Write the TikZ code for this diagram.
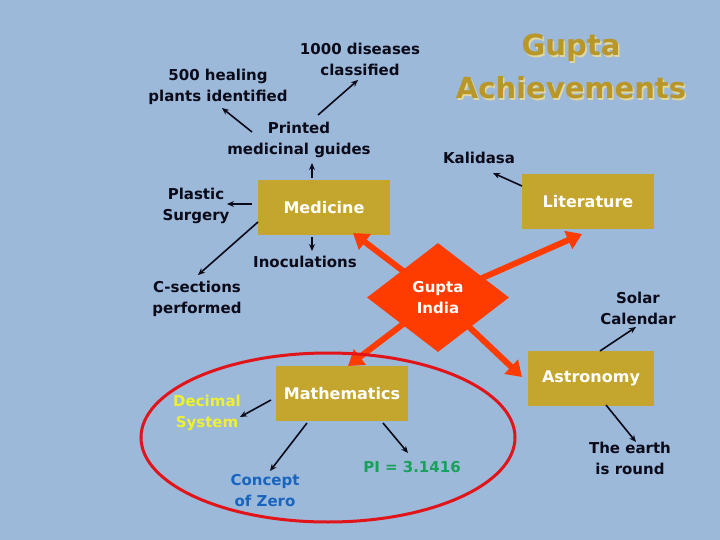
\documentclass[tikz,border=0pt]{standalone}
\usepackage{fontspec}
\setmainfont{DejaVu Sans}
\usetikzlibrary{shapes.geometric,arrows.meta}
\definecolor{bg}{RGB}{156,185,218}
\definecolor{gold}{RGB}{196,166,46}
\definecolor{redor}{RGB}{255,60,0}
\definecolor{ellred}{RGB}{225,20,25}
\definecolor{ttl}{RGB}{185,150,40}
\definecolor{ttlsh}{RGB}{225,215,160}
\definecolor{dec}{RGB}{240,240,50}
\definecolor{zero}{RGB}{25,100,190}
\definecolor{pigreen}{RGB}{25,160,90}
\definecolor{ink}{RGB}{10,10,25}
\begin{document}
\begin{tikzpicture}[x=1pt,y=-1pt,
 lbl/.style={text=ink, font=\fontsize{15}{21}\selectfont\bfseries, align=center, inner sep=0pt},
 box/.style={fill=gold, minimum width=132pt, minimum height=55pt, inner sep=0pt, text=white, font=\fontsize{16}{18}\selectfont\bfseries},
 blk/.style={draw=ink, line width=1.6pt, -{Stealth[length=7pt,width=6pt]}},
 big/.style={draw=redor, line width=6pt, -{Triangle[length=15pt,width=19pt]}},
]
\fill[bg] (0,0) rectangle (720,540);
\useasboundingbox (0,0) rectangle (720,540);

% title
\node[text=ttlsh, font=\fontsize{29}{43}\selectfont\bfseries, align=center, inner sep=0pt] (titlesh) at (572.5,68) {Gupta\\Achievements};
\node[text=ttl, font=\fontsize{29}{43}\selectfont\bfseries, align=center, inner sep=0pt] (title) at (571,66.5) {Gupta\\Achievements};

% text labels
\node[lbl] (dis) at (360,59) {1000 diseases\\classified};
\node[lbl] (heal) at (218,86.5) {500 healing\\plants identified};
\node[lbl] (pmg) at (299,139.5) {Printed\\medicinal guides};
\node[lbl] (kal) at (479,158) {Kalidasa};
\node[lbl] (ps) at (196,205.5) {Plastic\\Surgery};
\node[lbl] (ino) at (305,262) {Inoculations};
\node[lbl] (cs) at (197,299) {C-sections\\performed};
\node[lbl] (sol) at (638,308.5) {Solar\\Calendar};
\node[lbl] (earth) at (630,458.5) {The earth\\is round};
\node[lbl, text=dec] (dec) at (207,412.5) {Decimal\\System};
\node[lbl, text=zero] (zero) at (265,490.5) {Concept\\of Zero};
\node[lbl, text=pigreen] (pi) at (412,467) {PI = 3.1416};

% boxes
\node[box] (med) at (324,207.5) {Medicine};
\node[box] (lit) at (588,201.5) {Literature};
\node[box, minimum width=126pt] (ast) at (591,378.5) {Astronomy};
\node[box] (mat) at (342,393.5) {Mathematics};

% red arrows from Gupta India
\coordinate (gc) at (438,297.5);
\coordinate (tmed) at (353,233);
\coordinate (tlit) at (582,234);
\coordinate (tmat) at (348,366);
\coordinate (tast) at (522,377);
\draw[big] (gc) -- (tmed);
\draw[big] (gc) -- (tlit);
\draw[big] (gc) -- (tmat);
\draw[big] (gc) -- (tast);
\node[diamond, fill=redor, minimum width=142pt, minimum height=109pt, inner sep=0pt, text=white, align=center, font=\fontsize{15}{21}\selectfont\bfseries] (gi) at (gc) {Gupta\\India};

% black arrows
\coordinate (a1s) at (252,132); \coordinate (a1e) at (222,108);
\coordinate (a2s) at (318,115); \coordinate (a2e) at (358,80);
\coordinate (a3s) at (312,178); \coordinate (a3e) at (312,163);
\coordinate (a4s) at (252,204); \coordinate (a4e) at (227,204);
\coordinate (a5s) at (258,222); \coordinate (a5e) at (198,275);
\coordinate (a6s) at (312,237); \coordinate (a6e) at (312,251);
\coordinate (a7s) at (522,186); \coordinate (a7e) at (493,173);
\coordinate (a8s) at (600,351); \coordinate (a8e) at (636,327);
\coordinate (a9s) at (606,405); \coordinate (a9e) at (636,442);
\coordinate (a10s) at (271,400); \coordinate (a10e) at (240,417);
\coordinate (a11s) at (307,423); \coordinate (a11e) at (270,471);
\coordinate (a12s) at (383,423); \coordinate (a12e) at (408,453);
\draw[blk] (a1s) -- (a1e);
\draw[blk] (a2s) -- (a2e);
\draw[blk] (a3s) -- (a3e);
\draw[blk] (a4s) -- (a4e);
\draw[blk] (a5s) -- (a5e);
\draw[blk] (a6s) -- (a6e);
\draw[blk] (a7s) -- (a7e);
\draw[blk] (a8s) -- (a8e);
\draw[blk] (a9s) -- (a9e);
\draw[blk] (a10s) -- (a10e);
\draw[blk] (a11s) -- (a11e);
\draw[blk] (a12s) -- (a12e);

% red ellipse
\draw[ellred, line width=3pt] (328,437.5) ellipse [x radius=187, y radius=84.5];
\end{tikzpicture}
\end{document}
